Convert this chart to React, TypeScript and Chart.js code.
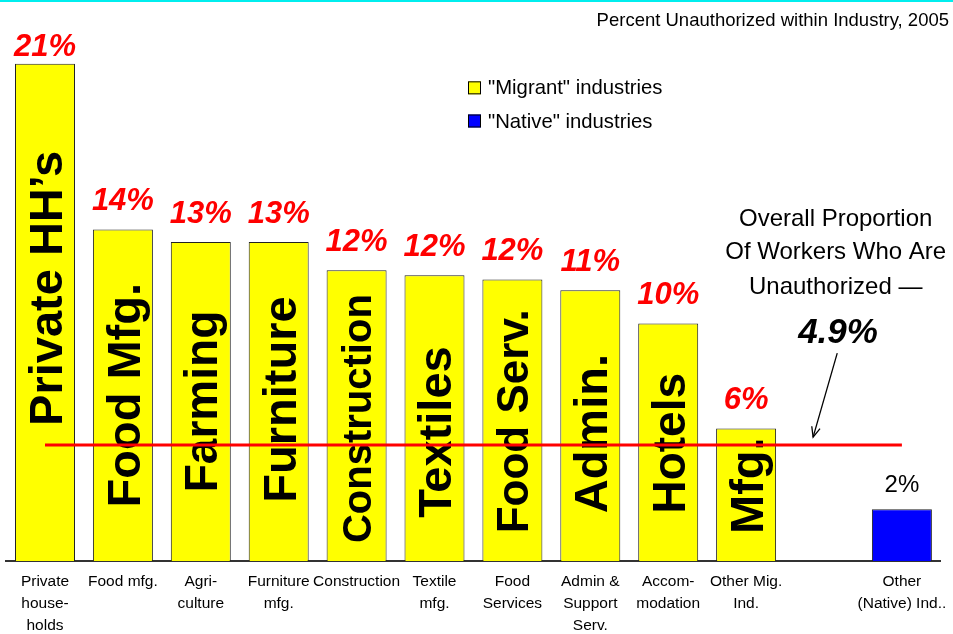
import React, { useEffect, useRef } from 'react';
import { Chart, registerables } from 'chart.js';

Chart.register(...registerables);

// ---------- data ----------
const CATEGORIES: string[][] = [
  ['Private', 'house-', 'holds'],
  ['Food mfg.'],
  ['Agri-', 'culture'],
  ['Furniture', 'mfg.'],
  ['Construction'],
  ['Textile', 'mfg.'],
  ['Food', 'Services'],
  ['Admin &', 'Support', 'Serv.'],
  ['Accom-', 'modation'],
  ['Other Mig.', 'Ind.'],
  [''],
  ['Other', '(Native) Ind..'],
];

const MIGRANT_VALUES: (number | null)[] = [21, 14, 13.47, 13.47, 12.28, 12.07, 11.89, 11.43, 10.03, 5.6, null, null];
const NATIVE_VALUES: (number | null)[] = [null, null, null, null, null, null, null, null, null, null, null, 2.18];
const OVERALL_VALUES: number[] = [4.9, 4.9, 4.9, 4.9, 4.9, 4.9, 4.9, 4.9, 4.9, 4.9, 4.9, 4.9];

const BAR_NAMES: string[] = [
  'Private HH\u2019s', 'Food Mfg.', 'Farming', 'Furniture', 'Construction',
  'Textiles', 'Food Serv.', 'Admin.', 'Hotels', 'Mfg.', '', '',
];

const SERIES_LABELS: string[] = ['"Migrant" industries', '"Native" industries'];
const TITLE_TEXT = 'Percent Unauthorized within Industry, 2005';
const NOTE_LINES: string[] = ['Overall Proportion', 'Of Workers Who Are', 'Unauthorized \u2014'];
const NOTE_VALUE = '4.9%';

// ---------- style ----------
const FONT = '"Liberation Sans", Arial, Helvetica, sans-serif';
const INNER_FONT_SIZE = [47, 47, 46, 47, 40, 47, 44, 47, 46, 47];
const INNER_SHIFT = [24, 0, 0, 2, -3, -14, -1, -8, -1, 9]; // px upward
// annotation anchors in data space (x = category index, y = value)
const NOTE_X = 10.15;
const NOTE_LINE_Y = [14.43, 13.04, 11.56];
const NOTE_VALUE_POS = { x: 10.18, y: 9.62 };
const ARROW_FROM = { x: 10.17, y: 8.78 };
const ARROW_TO = { x: 9.86, y: 5.23 };
const LEGEND_ANCHOR = { x: 5.43, y: [19.98, 18.58] };

const decorations = {
  id: 'decorations',
  beforeDraw(chart: any) {
    const ctx = chart.ctx;
    ctx.save();
    ctx.fillStyle = '#ffffff';
    ctx.fillRect(0, 0, chart.width, chart.height);
    ctx.fillStyle = '#00EEEE';
    ctx.fillRect(0, 0, chart.width, 2);
    ctx.fillStyle = '#000';
    ctx.font = `18.5px ${FONT}`;
    ctx.textAlign = 'right';
    ctx.textBaseline = 'alphabetic';
    ctx.fillText(TITLE_TEXT, chart.width - 4, 26);
    ctx.restore();
  },
  afterDatasetDraw(chart: any, args: any) {
    if (args.index !== 0) return;
    const ctx = chart.ctx;
    const meta = chart.getDatasetMeta(0);
    meta.data.forEach((bar: any, i: number) => {
      const v = MIGRANT_VALUES[i];
      const name = BAR_NAMES[i];
      if (v == null || !name) return;
      const size = INNER_FONT_SIZE[i] || 46;
      const cy = (bar.y + bar.base) / 2 - (INNER_SHIFT[i] || 0);
      ctx.save();
      ctx.translate(bar.x, cy);
      ctx.rotate(-Math.PI / 2);
      ctx.font = `bold ${size}px ${FONT}`;
      ctx.fillStyle = '#000';
      ctx.textAlign = 'center';
      ctx.textBaseline = 'alphabetic';
      ctx.fillText(name, 0, size * 0.36);
      ctx.restore();
    });
  },
  afterDatasetsDraw(chart: any) {
    const ctx = chart.ctx;
    const xs = chart.scales.x;
    const ys = chart.scales.y;
    const area = chart.chartArea;
    ctx.save();
    // value labels - migrant
    chart.getDatasetMeta(0).data.forEach((bar: any, i: number) => {
      const v = MIGRANT_VALUES[i];
      if (v == null) return;
      ctx.font = `italic bold 31px ${FONT}`;
      ctx.fillStyle = '#FF0000';
      ctx.textAlign = 'center';
      ctx.textBaseline = 'alphabetic';
      ctx.fillText(`${Math.round(v)}%`, bar.x, Math.max(bar.y - 19, area.top + 16));
    });
    // value labels - native
    chart.getDatasetMeta(1).data.forEach((bar: any, i: number) => {
      const v = NATIVE_VALUES[i];
      if (v == null) return;
      ctx.font = `24px ${FONT}`;
      ctx.fillStyle = '#000';
      ctx.textAlign = 'center';
      ctx.textBaseline = 'alphabetic';
      ctx.fillText(`${Math.round(v)}%`, bar.x, bar.y - 17);
    });
    // annotation text
    ctx.fillStyle = '#000';
    ctx.textAlign = 'center';
    ctx.textBaseline = 'middle';
    ctx.font = `24px ${FONT}`;
    NOTE_LINES.forEach((t, i) => {
      ctx.fillText(t, xs.getPixelForValue(NOTE_X), ys.getPixelForValue(NOTE_LINE_Y[i]));
    });
    ctx.font = `italic bold 35px ${FONT}`;
    ctx.fillText(NOTE_VALUE, xs.getPixelForValue(NOTE_VALUE_POS.x), ys.getPixelForValue(NOTE_VALUE_POS.y));
    // arrow
    const x1 = xs.getPixelForValue(ARROW_FROM.x);
    const y1 = ys.getPixelForValue(ARROW_FROM.y);
    const x2 = xs.getPixelForValue(ARROW_TO.x);
    const y2 = ys.getPixelForValue(ARROW_TO.y);
    ctx.strokeStyle = '#000';
    ctx.lineWidth = 1.3;
    ctx.beginPath();
    ctx.moveTo(x1, y1);
    ctx.lineTo(x2, y2);
    ctx.stroke();
    const ang = Math.atan2(y2 - y1, x2 - x1);
    const hl = 11;
    const ha = 0.4;
    ctx.beginPath();
    ctx.moveTo(x2 - hl * Math.cos(ang - ha), y2 - hl * Math.sin(ang - ha));
    ctx.lineTo(x2, y2);
    ctx.lineTo(x2 - hl * Math.cos(ang + ha), y2 - hl * Math.sin(ang + ha));
    ctx.stroke();
    // legend
    const lx = xs.getPixelForValue(LEGEND_ANCHOR.x);
    const bars = chart.data.datasets.filter((d: any) => d.type === 'bar');
    bars.forEach((d: any, i: number) => {
      const cy = ys.getPixelForValue(LEGEND_ANCHOR.y[i]);
      ctx.fillStyle = d.backgroundColor;
      ctx.fillRect(lx, cy - 6.5, 13, 13);
      ctx.strokeStyle = '#000';
      ctx.lineWidth = 1;
      ctx.strokeRect(lx + 0.5, cy - 6, 12, 12);
      ctx.fillStyle = '#000';
      ctx.font = `20.3px ${FONT}`;
      ctx.textAlign = 'left';
      ctx.textBaseline = 'middle';
      ctx.fillText(d.label, lx + 20, cy + 1);
    });
    ctx.restore();
  },
};

export default function App() {
  const ref = useRef<HTMLCanvasElement>(null);
  useEffect(() => {
    if (!ref.current) return;
    const chart = new Chart(ref.current, {
      type: 'bar',
      data: {
        labels: CATEGORIES,
        datasets: [
          {
            type: 'bar',
            label: SERIES_LABELS[0],
            data: MIGRANT_VALUES,
            backgroundColor: '#FFFF00',
            borderColor: '#222',
            borderWidth: 1,
            barPercentage: 0.77,
            categoryPercentage: 1,
            grouped: false,
            order: 3,
          } as any,
          {
            type: 'bar',
            label: SERIES_LABELS[1],
            data: NATIVE_VALUES,
            backgroundColor: '#0000FF',
            borderColor: '#222',
            borderWidth: 1,
            barPercentage: 0.77,
            categoryPercentage: 1,
            grouped: false,
            order: 2,
          } as any,
          {
            type: 'line',
            label: 'Overall',
            data: OVERALL_VALUES,
            borderColor: '#FF0000',
            borderWidth: 3,
            pointRadius: 0,
            fill: false,
            order: 1,
          } as any,
        ],
      },
      options: {
        responsive: false,
        devicePixelRatio: 1,
        animation: false,
        layout: { padding: { left: 6.05, right: 12.15, top: 40, bottom: -6 } },
        plugins: {
          legend: { display: false },
          tooltip: { enabled: false },
          title: { display: false },
        },
        scales: {
          x: {
            offset: true,
            grid: { display: false, drawTicks: true, tickLength: 7 },
            border: { display: true, color: '#333', width: 2 },
            ticks: {
              autoSkip: false,
              maxRotation: 0,
              minRotation: 0,
              padding: 3,
              color: '#000',
              font: { family: FONT, size: 15.5, lineHeight: '22px' },
            },
          },
          y: {
            display: false,
            min: 0,
            max: 22,
          },
        },
      },
      plugins: [decorations],
    } as any);
    return () => chart.destroy();
  }, []);
  return (
    <div style={{ position: 'absolute', left: 0, top: 0, width: 953, height: 634, background: '#fff' }}>
      <canvas ref={ref} width={953} height={634} style={{ display: 'block' }} />
    </div>
  );
}
